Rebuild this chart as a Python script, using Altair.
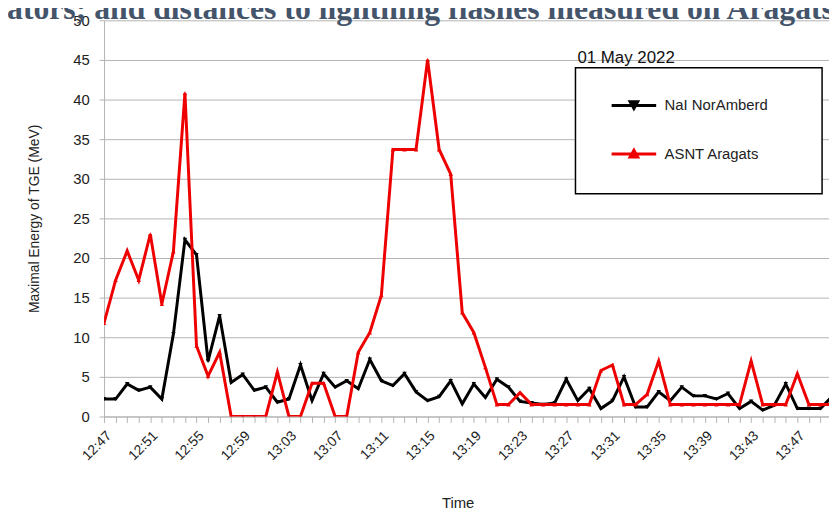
import json
import altair as alt
import pandas as pd

# x categories: one reading per minute starting 12:47
start_minute = 12 * 60 + 47
minute_idx = list(range(64))
time_labels = [f"{(start_minute + m) // 60}:{(start_minute + m) % 60:02d}" for m in minute_idx]

series_names = ["NaI NorAmberd", "ASNT Aragats"]
series_colors = ["#000000", "#ee0000"]

nai_noramberd = [
    2.2, 2.2, 4.1, 3.3, 3.7, 2.2, 10.4, 22.3, 20.4, 7.0,
    12.7, 4.3, 5.3, 3.3, 3.7, 1.8, 2.2, 6.5, 2.0, 5.4,
    3.7, 4.5, 3.5, 7.2, 4.5, 3.9, 5.4, 3.1, 2.0, 2.5,
    4.5, 1.6, 4.1, 2.4, 4.7, 3.7, 1.9, 1.7, 1.5, 1.7,
    4.7, 2.0, 3.5, 1.0, 2.0, 5.0, 1.2, 1.2, 3.1, 2.0,
    3.7, 2.6, 2.6, 2.2, 2.9, 1.0, 1.9, 0.8, 1.4, 4.1,
    1.0, 1.0, 1.0, 2.5,
]
asnt_aragats = [
    11.8, 17.2, 20.9, 17.2, 23.0, 14.2, 20.8, 40.8, 8.9, 5.1,
    8.1, 0.0, 0.0, 0.0, 0.0, 5.6, 0.0, 0.0, 4.2, 4.2,
    0.0, 0.0, 8.1, 10.6, 15.3, 33.7, 33.7, 33.7, 45.0, 33.7,
    30.6, 13.1, 10.6, 6.2, 1.5, 1.5, 3.0, 1.5, 1.5, 1.5,
    1.5, 1.5, 1.5, 5.8, 6.5, 1.5, 1.5, 2.8, 7.0, 1.5,
    1.5, 1.5, 1.5, 1.5, 1.5, 1.5, 7.0, 1.5, 1.5, 1.5,
    5.4, 1.5, 1.5, 1.5,
]

y_ticks = list(range(0, 51, 5))
date_label = "01 May 2022"
caption_fragment = "scintillators; and distances to lightning flashes measured on Aragats"

df = pd.DataFrame({
    "m": minute_idx + minute_idx,
    "v": nai_noramberd + asnt_aragats,
    "s": [series_names[0]] * len(minute_idx) + [series_names[1]] * len(minute_idx),
})

label_expr = "datum.value % 4 == 0 ? " + json.dumps(time_labels) + "[datum.value] : ''"
FONT = "Liberation Sans"
GRID = "#b3b3b3"
TXT = "#222222"

x_scale = alt.Scale(domain=[0, 62.74], nice=False, zero=False)
y_scale = alt.Scale(domain=[0, 50], nice=False)

x_enc = alt.X(
    "m:Q", scale=x_scale,
    axis=alt.Axis(
        values=minute_idx, labelExpr=label_expr, labelAngle=315, labelAlign="right",
        labelBaseline="top", labelOverlap=False, labelPadding=6, grid=False,
        tickSize=6, tickColor=GRID, domainColor=GRID, labelFontSize=14,
        labelFont=FONT, labelColor=TXT, title="Time", titleFont=FONT,
        titleFontSize=15, titleFontWeight="normal", titleColor=TXT,
        titleX=357, titleY=92, titleBaseline="alphabetic", titleAlign="center",
    ),
)
y_enc = alt.Y(
    "v:Q", scale=y_scale,
    axis=alt.Axis(
        values=y_ticks, gridColor=GRID, domainColor=GRID, tickColor=GRID, tickSize=5,
        labelPadding=10, labelFontSize=15, labelFont=FONT, labelColor=TXT,
        title="Maximal Energy of TGE (MeV)", titleFont=FONT, titleFontSize=14,
        titleFontWeight="normal", titleColor=TXT, titleAngle=270,
        titleX=-63, titleY=200, titleAlign="center", titleBaseline="bottom",
    ),
)

layers = []
for name, col, shp in zip(series_names, series_colors, ["triangle-down", "triangle-up"]):
    base = alt.Chart(df).transform_filter(alt.datum.s == name)
    layers.append(base.mark_line(strokeWidth=3, color=col, clip=True).encode(x=x_enc, y=y_enc))
    layers.append(base.mark_point(filled=True, size=20, opacity=1, shape=shp, color=col, clip=True)
                  .encode(x=x_enc, y=y_enc))

box = alt.Chart(alt.Data(values=[{}])).mark_rect(fill="white", stroke="black", strokeWidth=1.5).encode(
    x=alt.value(476), x2=alt.value(725), y=alt.value(48), y2=alt.value(175)
)
date_text = alt.Chart(alt.Data(values=[{}])).mark_text(
    text=date_label, align="left", baseline="alphabetic", fontSize=17, font=FONT, color="#111111"
).encode(x=alt.value(478), y=alt.value(43))

caption = alt.Chart(alt.Data(values=[{}])).mark_text(
    text=caption_fragment, align="right", baseline="alphabetic", fontSize=32,
    font="Liberation Serif", fontWeight="bold", color="#44546a"
).encode(x=alt.value(737), y=alt.value(-1))

# legend symbols: a line segment with a triangle marker
path_down = "M-1,0H1M-0.17,-0.17H0.17L0,0.13Z"
path_up = "M-1,0H1M-0.17,0.13H0.17L0,-0.17Z"
color_scale = alt.Scale(domain=series_names, range=series_colors)
leg = alt.Legend(
    orient="none", legendX=511, legendY=62, title=None, labelFontSize=15, labelFont=FONT,
    labelColor=TXT, symbolSize=2025, symbolStrokeWidth=3, rowPadding=16,
    labelOffset=7, padding=0, symbolOpacity=1,
)
# carrier layer for the legend: its points are shifted above the y domain and clipped away
legend_layer = alt.Chart(df).transform_calculate(v="datum.v + 1000").mark_point(
    filled=True, strokeWidth=3, opacity=1, clip=True
).encode(
    x=x_enc, y=y_enc,
    color=alt.Color("s:N", scale=color_scale, legend=leg),
    stroke=alt.Stroke("s:N", scale=color_scale, legend=leg),
    shape=alt.Shape("s:N", scale=alt.Scale(domain=series_names, range=[path_down, path_up]), legend=leg),
)

chart = alt.layer(*layers, box, date_text, legend_layer, caption).properties(
    width=732, height=400,
    autosize=alt.AutoSizeParams(type="none"),
    padding={"left": 97, "top": 10, "right": 0, "bottom": 93},
).configure_view(stroke=None)

chart.save("out.html", embed_options={"renderer": "svg", "actions": False})
